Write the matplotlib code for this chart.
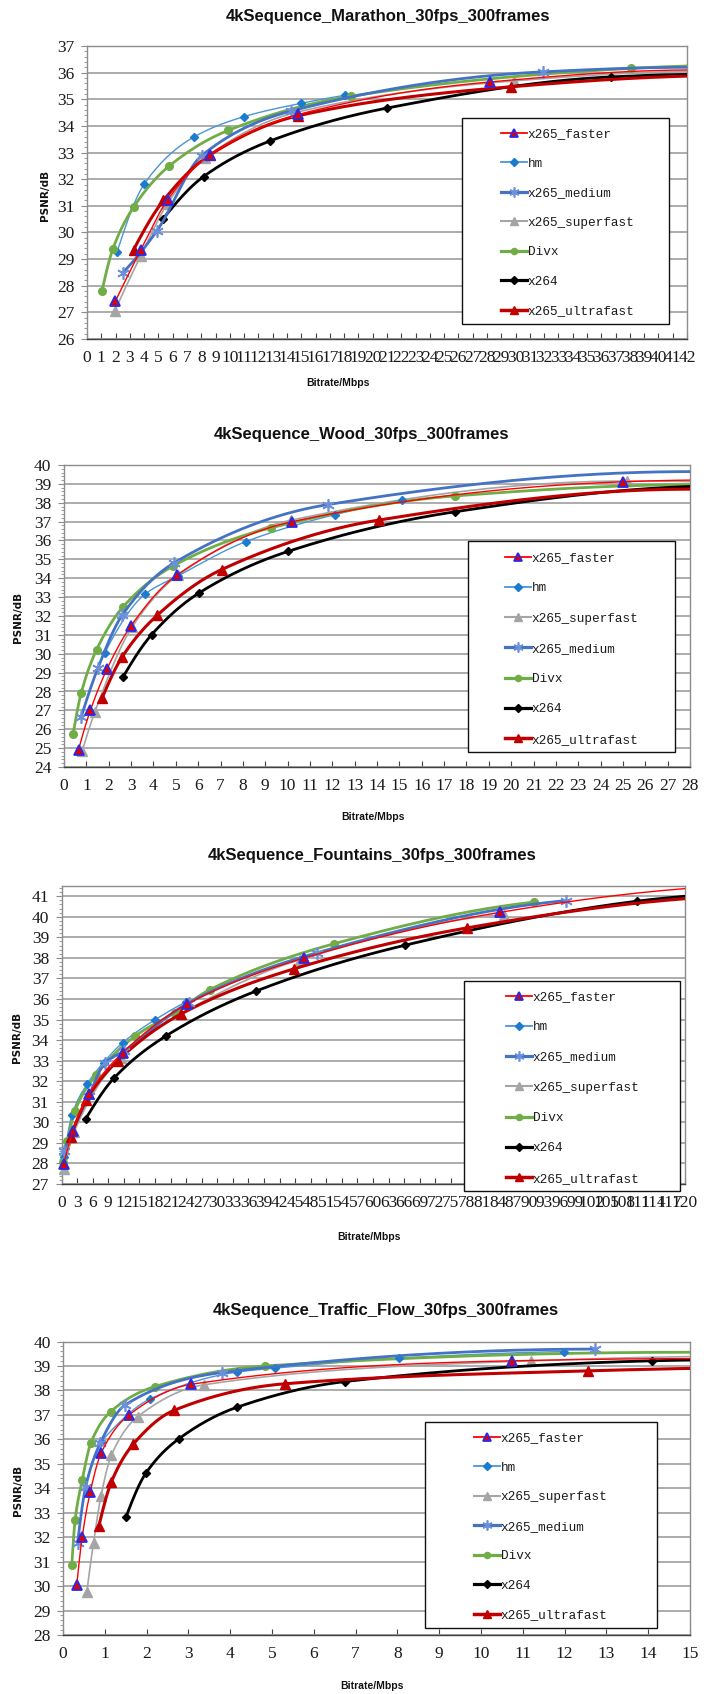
import numpy as np
import matplotlib
matplotlib.use("Agg")
import matplotlib.pyplot as plt
from matplotlib.patches import Rectangle
from matplotlib.lines import Line2D
from matplotlib.ticker import MultipleLocator

# ---------------- data ----------------
marathon_bitrate = {
    "x265_faster":    [1.98, 3.77, 5.65, 8.6, 14.8, 28.2],
    "hm":             [2.09, 4.02, 7.47, 11.0, 15.0, 18.04],
    "x265_medium":    [2.49, 4.88, 8.02, 14.3, 31.9],
    "x265_superfast": [1.93, 3.77, 5.63, 8.26, 14.6, 29.9],
    "Divx":           [1.05, 1.81, 3.26, 5.72, 9.88, 18.5, 38.1],
    "x264":           [5.3, 8.16, 12.84, 21.0, 36.7],
    "x265_ultrafast": [3.26, 5.35, 8.6, 14.77, 29.7],
}
marathon_psnr = {
    "x265_faster":    [27.41, 29.35, 31.23, 32.91, 34.43, 35.65],
    "hm":             [29.25, 31.83, 33.58, 34.35, 34.85, 35.15],
    "x265_medium":    [28.48, 30.05, 32.88, 34.56, 36.03],
    "x265_superfast": [27.04, 29.13, 31.08, 32.79, 34.5, 35.69],
    "Divx":           [27.81, 29.38, 30.95, 32.48, 33.83, 35.12, 36.16],
    "x264":           [30.5, 32.1, 33.44, 34.67, 35.84],
    "x265_ultrafast": [29.35, 31.2, 32.91, 34.38, 35.47],
}
marathon_edge = {"x265_faster": 36.1, "x265_medium": 36.2, "x265_superfast": 36.05,
                 "Divx": 36.25, "x264": 35.93, "x265_ultrafast": 35.87}

wood_bitrate = {
    "x265_faster":    [0.65, 1.18, 1.93, 2.99, 5.04, 10.18, 25.0],
    "hm":             [1.83, 3.62, 5.08, 8.13, 12.11, 15.14],
    "x265_superfast": [0.81, 1.38, 3.05, 5.1, 10.16, 25.16],
    "x265_medium":    [0.77, 1.52, 2.6, 4.92, 11.79],
    "Divx":           [0.41, 0.77, 1.46, 2.64, 4.88, 9.25, 17.48],
    "x264":           [2.64, 3.92, 6.04, 10.04, 17.48],
    "x265_ultrafast": [1.71, 2.6, 4.17, 7.05, 14.07],
}
wood_psnr = {
    "x265_faster":    [24.92, 27.0, 29.21, 31.47, 34.16, 36.99, 39.11],
    "hm":             [30.06, 33.15, 34.11, 35.94, 37.37, 38.14],
    "x265_superfast": [24.83, 26.92, 31.42, 34.16, 37.08, 39.15],
    "x265_medium":    [26.65, 29.25, 32.04, 34.81, 37.9],
    "Divx":           [25.77, 27.92, 30.22, 32.48, 34.65, 36.67, 38.36],
    "x264":           [28.77, 31.01, 33.22, 35.43, 37.52],
    "x265_ultrafast": [27.67, 29.83, 32.04, 34.46, 37.08],
}
wood_edge = {"x265_faster": 39.2, "x265_superfast": 39.12, "x265_medium": 39.65,
             "Divx": 38.95, "x264": 38.86, "x265_ultrafast": 38.72}

fountains_bitrate = {
    "x265_faster":    [0.44, 2.2, 5.25, 11.8, 24.1, 46.8, 84.5],
    "hm":             [0.5, 2.0, 5.0, 8.1, 11.8, 17.95, 23.9],
    "x265_medium":    [0.4, 5.25, 8.3, 12.0, 24.5, 49.2, 97.2],
    "x265_superfast": [0.44, 2.4, 11.4, 22.8, 46.0, 85.2],
    "Divx":           [0.26, 1.14, 2.6, 6.6, 14.2, 21.8, 28.6, 52.5, 91.1],
    "x264":           [4.64, 10.1, 20.1, 37.4, 66.2, 110.8],
    "x265_ultrafast": [1.75, 4.8, 10.8, 23.0, 44.8, 78.1],
}
fountains_psnr = {
    "x265_faster":    [27.97, 29.59, 31.37, 33.39, 35.74, 38.0, 40.22],
    "hm":             [28.3, 30.35, 31.89, 32.91, 33.88, 34.98, 35.85],
    "x265_medium":    [28.62, 31.29, 32.87, 33.47, 35.82, 38.25, 40.79],
    "x265_superfast": [27.73, 29.51, 33.15, 35.25, 37.92, 40.11],
    "Divx":           [28.08, 29.1, 30.56, 32.29, 34.2, 35.33, 36.46, 38.69, 40.72],
    "x264":           [30.16, 32.15, 34.2, 36.38, 38.62, 40.76],
    "x265_ultrafast": [29.3, 31.09, 32.99, 35.27, 37.47, 39.46],
}
fountains_edge = {"x265_faster": 41.37, "x264": 41.0, "x265_ultrafast": 40.88}

traffic_bitrate = {
    "x265_faster":    [0.33, 0.46, 0.65, 0.91, 1.58, 3.07, 10.73],
    "hm":             [0.91, 2.07, 4.16, 5.06, 8.05, 11.99],
    "x265_superfast": [0.57, 0.73, 0.91, 1.16, 1.79, 3.37, 11.2],
    "x265_medium":    [0.35, 0.54, 0.89, 1.49, 3.8, 12.73],
    "Divx":           [0.21, 0.29, 0.46, 0.67, 1.14, 2.2, 4.83],
    "x264":           [1.51, 1.98, 2.77, 4.16, 6.74, 14.08],
    "x265_ultrafast": [0.86, 1.16, 1.68, 2.65, 5.3, 12.56],
}
traffic_psnr = {
    "x265_faster":    [30.04, 32.02, 33.83, 35.43, 37.0, 38.25, 39.21],
    "hm":             [35.91, 37.64, 38.75, 38.91, 39.32, 39.59],
    "x265_superfast": [29.77, 31.78, 33.69, 35.36, 36.93, 38.23, 39.21],
    "x265_medium":    [31.78, 34.04, 35.84, 37.41, 38.73, 39.69],
    "Divx":           [30.86, 32.7, 34.34, 35.87, 37.13, 38.16, 39.0],
    "x264":           [32.84, 34.61, 36.02, 37.31, 38.36, 39.21],
    "x265_ultrafast": [32.47, 34.27, 35.8, 37.18, 38.27, 38.8],
}
traffic_edge = {"x265_faster": 39.3, "x265_superfast": 39.38, "Divx": 39.56,
                "x264": 39.24, "x265_ultrafast": 38.9}

order_a = ["x265_faster", "hm", "x265_medium", "x265_superfast", "Divx", "x264", "x265_ultrafast"]
order_b = ["x265_faster", "hm", "x265_superfast", "x265_medium", "Divx", "x264", "x265_ultrafast"]

# ---------------- styles ----------------
STYLE = {
    "x265_faster":    dict(color="#FF0000", lw=1.0, marker="^", mfc="#E00000", mec="#2A2AE8", ms=7, mew=1.3, z=6),
    "hm":             dict(color="#4A95D8", lw=1.0, marker="D", mfc="#1A7BD0", mec="#1A7BD0", ms=4.5, mew=1.0, z=4),
    "x265_medium":    dict(color="#4472C4", lw=2.0, marker=(6, 2, 0), mfc="#6B8FD8", mec="#6B8FD8", ms=9, mew=1.2, z=5),
    "x265_superfast": dict(color="#A5A5A5", lw=1.2, marker="^", mfc="#A5A5A5", mec="#A5A5A5", ms=7, mew=1.0, z=3),
    "Divx":           dict(color="#70AD47", lw=2.0, marker="o", mfc="#70AD47", mec="#70AD47", ms=5.5, mew=1.0, z=4),
    "x264":           dict(color="#000000", lw=2.0, marker="D", mfc="#000000", mec="#000000", ms=4.5, mew=1.0, z=4),
    "x265_ultrafast": dict(color="#C00000", lw=2.2, marker="^", mfc="#C00000", mec="#C00000", ms=7.5, mew=1.0, z=5),
}

W, H = 713, 1694
TICK_FONT = ["Liberation Serif", "DejaVu Serif"]
TITLE_FONT = ["Liberation Sans", "DejaVu Sans"]
LEGEND_FONT = ["Liberation Mono", "DejaVu Sans Mono"]


def pchip(x, y, xs):
    x = np.asarray(x, float); y = np.asarray(y, float)
    n = len(x)
    h = np.diff(x); d = np.diff(y) / h
    m = np.zeros(n)
    if n == 2:
        m[:] = d[0]
    else:
        for k in range(1, n - 1):
            if d[k - 1] * d[k] <= 0:
                m[k] = 0.0
            else:
                w1 = 2 * h[k] + h[k - 1]
                w2 = h[k] + 2 * h[k - 1]
                m[k] = (w1 + w2) / (w1 / d[k - 1] + w2 / d[k])
        m0 = ((2 * h[0] + h[1]) * d[0] - h[0] * d[1]) / (h[0] + h[1])
        if np.sign(m0) != np.sign(d[0]):
            m0 = 0.0
        elif np.sign(d[0]) != np.sign(d[1]) and abs(m0) > abs(3 * d[0]):
            m0 = 3 * d[0]
        m[0] = m0
        mn = ((2 * h[-1] + h[-2]) * d[-1] - h[-1] * d[-2]) / (h[-1] + h[-2])
        if np.sign(mn) != np.sign(d[-1]):
            mn = 0.0
        elif np.sign(d[-1]) != np.sign(d[-2]) and abs(mn) > abs(3 * d[-1]):
            mn = 3 * d[-1]
        m[-1] = mn
    idx = np.clip(np.searchsorted(x, xs) - 1, 0, n - 2)
    t = (xs - x[idx]) / h[idx]
    h00 = 2 * t**3 - 3 * t**2 + 1
    h10 = t**3 - 2 * t**2 + t
    h01 = -2 * t**3 + 3 * t**2
    h11 = t**3 - t**2
    return h00 * y[idx] + h10 * h[idx] * m[idx] + h01 * y[idx + 1] + h11 * h[idx] * m[idx + 1]


def px_rect(left, top, right, bottom):
    return [left / W, 1 - bottom / H, (right - left) / W, (bottom - top) / H]


def panel(fig, box, title, title_xy, xlabel_xy, ylabel_xy, xmax, xstep, ylim, order,
          bitrate, psnr, edge, legbox, leg_anchor, labelspacing):
    ax = fig.add_axes(px_rect(*box))
    for name in order:
        st = STYLE[name]
        x = np.array(bitrate[name], float)
        y = np.array(psnr[name], float)
        xl, yl = x, y
        if name in edge:
            xl = np.append(x, xmax)
            yl = np.append(y, edge[name])
        xs = np.linspace(xl[0], xl[-1], 600)
        ax.plot(xs, pchip(xl, yl, xs), color=st["color"], lw=st["lw"], zorder=st["z"],
                solid_capstyle="round")
        ax.plot(x, y, ls="none", marker=st["marker"], mfc=st["mfc"], mec=st["mec"],
                ms=st["ms"], mew=st["mew"], zorder=st["z"] + 0.5, clip_on=False)
    ax.set_xlim(0, xmax)
    ax.set_ylim(*ylim)
    ax.yaxis.set_major_locator(MultipleLocator(1))
    ax.yaxis.set_minor_locator(MultipleLocator(0.2))
    ax.grid(axis="y", which="major", color="#A6A6A6", lw=1.3)
    ax.set_axisbelow(True)
    for s in ax.spines.values():
        s.set_color("#8C8C8C")
        s.set_linewidth(1.0)
    ax.spines["bottom"].set_color("#404040")
    ax.tick_params(axis="x", direction="in", length=4, color="#404040", pad=8)
    ax.tick_params(axis="y", which="major", direction="out", length=4, color="#8C8C8C", pad=5)
    ax.tick_params(axis="y", which="minor", direction="out", length=2.5, color="#8C8C8C")
    xt = np.arange(0, xmax + 0.001, xstep)
    ax.set_xticks(xt)
    ax.set_xticklabels([f"{v:g}" for v in xt], family=TICK_FONT, fontsize=12.5, color="#1A1A1A")
    for lab in ax.get_yticklabels():
        lab.set_family(TICK_FONT)
        lab.set_fontsize(12.5)
        lab.set_color("#1A1A1A")
    # title & labels (figure pixel coords)
    fig.text(title_xy[0] / W, 1 - title_xy[1] / H, title, ha="center", va="center",
             family=TITLE_FONT, fontsize=12, fontweight="bold", color="#111111")
    fig.text(xlabel_xy[0] / W, 1 - xlabel_xy[1] / H, "Bitrate/Mbps", ha="center", va="center",
             family=TITLE_FONT, fontsize=7.5, fontweight="bold", color="#111111")
    fig.text(ylabel_xy[0] / W, 1 - ylabel_xy[1] / H, "PSNR/dB", ha="center",
             va="center", rotation=90, family=["DejaVu Sans"], fontsize=7.5,
             fontweight="bold", color="#111111")
    # legend
    l, t, r, b = legbox
    fig.add_artist(Rectangle((l / W, 1 - b / H), (r - l) / W, (b - t) / H,
                             transform=fig.transFigure, fc="white", ec="#111111",
                             lw=1.0, zorder=5))
    handles = []
    for name in order:
        st = STYLE[name]
        handles.append(Line2D([], [], color=st["color"], lw=st["lw"] + 0.3, marker=st["marker"],
                              mfc=st["mfc"], mec=st["mec"], ms=st["ms"] * 0.8, mew=st["mew"]))
    leg = fig.legend(handles, order, loc="upper left",
                     bbox_to_anchor=(leg_anchor[0] / W, 1 - leg_anchor[1] / H),
                     bbox_transform=fig.transFigure, frameon=False, borderpad=0,
                     borderaxespad=0, handlelength=2.0, handletextpad=0.1,
                     labelspacing=labelspacing,
                     prop={"family": LEGEND_FONT, "size": 9.2})
    leg.set_zorder(6)
    for txt in leg.get_texts():
        txt.set_color("#1A1A1A")
    return ax


fig = plt.figure(figsize=(W / 100, H / 100), dpi=100)
fig.patch.set_facecolor("white")

panel(fig, (87, 46, 687, 339), "4kSequence_Marathon_30fps_300frames", (388, 17), (338, 383), (45, 195),
      42, 1, (26, 37), order_a, marathon_bitrate, marathon_psnr, marathon_edge,
      (462, 118, 669, 324), (501, 128.3), 1.37)
panel(fig, (64, 465, 690, 767), "4kSequence_Wood_30fps_300frames", (361, 434), (373, 817), (18, 617),
      28, 1, (24, 40), order_b, wood_bitrate, wood_psnr, wood_edge,
      (468, 540.7, 675, 752), (505, 552), 1.43)
panel(fig, (61.5, 886, 684.5, 1184), "4kSequence_Fountains_30fps_300frames", (372, 855), (369, 1237), (17, 1037),
      120, 3, (27, 41.5), order_a, fountains_bitrate, fountains_psnr, fountains_edge,
      (464, 981, 680, 1191), (506, 991), 1.43)
panel(fig, (63, 1341.5, 690, 1635), "4kSequence_Traffic_Flow_30fps_300frames", (386, 1311), (372, 1686), (18, 1490),
      15, 1, (28, 40), order_b, traffic_bitrate, traffic_psnr, traffic_edge,
      (425, 1422, 657, 1628), (474, 1432.3), 1.37)

fig.savefig("out.png", dpi=100, facecolor="white")
